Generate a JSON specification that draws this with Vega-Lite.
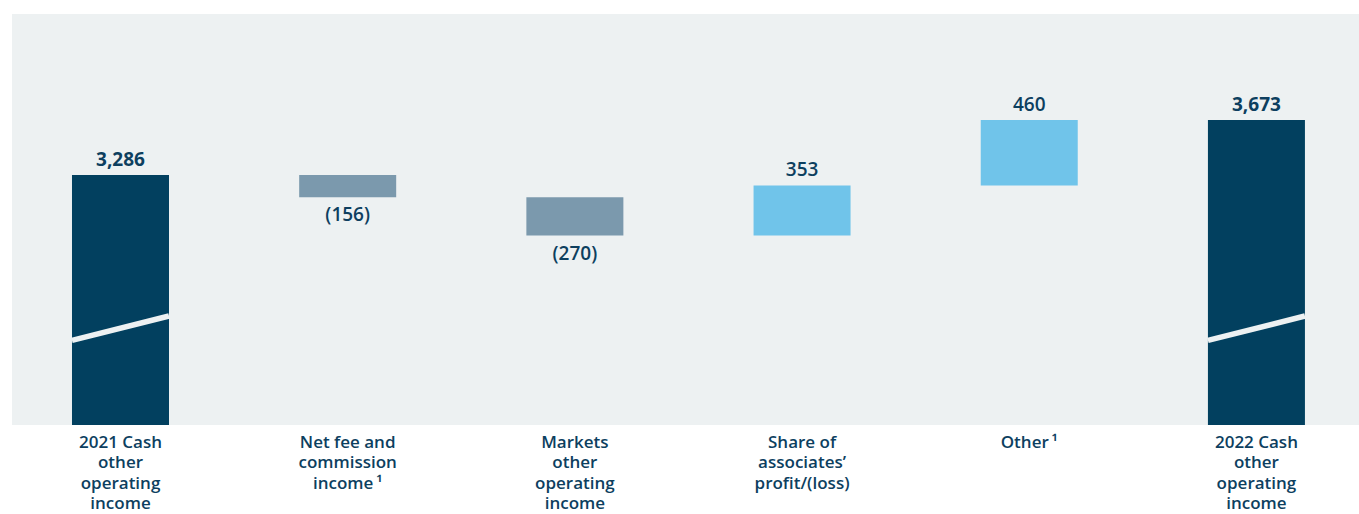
{
  "$schema": "https://vega.github.io/schema/vega-lite/v6.json",
  "autosize": {"type": "none"},
  "width": 1347,
  "height": 411,
  "padding": {"left": 12, "top": 14, "right": 0, "bottom": 89},
  "background": "#ffffff",
  "config": {
    "view": {"fill": "#edf1f2", "stroke": null},
    "font": "Open Sans"
  },
  "data": {
    "values": [
      {"category": "2021 Cash|other|operating|income", "type": "total", "start": 0, "end": 3286, "amount": 3286},
      {"category": "Net fee and|commission|income\u2009¹", "type": "decrease", "start": 3286, "end": 3130, "amount": -156},
      {"category": "Markets|other|operating|income", "type": "decrease", "start": 3130, "end": 2860, "amount": -270},
      {"category": "Share of|associates’|profit/(loss)", "type": "increase", "start": 2860, "end": 3213, "amount": 353},
      {"category": "Other\u2009¹", "type": "increase", "start": 3213, "end": 3673, "amount": 460},
      {"category": "2022 Cash|other|operating|income", "type": "total", "start": 0, "end": 3673, "amount": 3673}
    ]
  },
  "encoding": {
    "x": {
      "field": "category",
      "type": "nominal",
      "sort": null,
      "scale": {"paddingInner": 0.573, "paddingOuter": 0.251, "align": 0.526},
      "axis": {
        "title": null,
        "domain": false,
        "ticks": false,
        "labelAngle": 0,
        "labelExpr": "split(datum.label, '|')",
        "labelFont": "Open Sans",
        "labelFontSize": 17,
        "labelFontWeight": 600,
        "labelColor": "#0d3f5f",
        "labelLineHeight": 20.6,
        "labelBaseline": "top",
        "labelPadding": 9,
        "labelLimit": 300
      }
    }
  },
  "layer": [
    {
      "mark": {"type": "bar", "clip": true},
      "encoding": {
        "y": {"field": "start", "type": "quantitative", "scale": {"domain": [1527, 4419], "nice": false, "zero": false}, "axis": null},
        "y2": {"field": "end"},
        "color": {
          "field": "type",
          "type": "nominal",
          "scale": {"domain": ["total", "decrease", "increase"], "range": ["#02405f", "#7b99ad", "#70c4ea"]},
          "legend": null
        }
      }
    },
    {
      "transform": [{"filter": "datum.type === 'total'"}],
      "mark": {"type": "rule", "color": "#edf1f2", "strokeWidth": 5.5},
      "encoding": {
        "x": {"field": "category", "type": "nominal", "sort": null, "bandPosition": 0},
        "x2": {"field": "category", "bandPosition": 1},
        "y": {"datum": 2122, "type": "quantitative"},
        "y2": {"datum": 2294}
      }
    },
    {
      "transform": [{"filter": "datum.type === 'total'"}],
      "mark": {"type": "text", "baseline": "alphabetic", "dy": -9, "fontSize": 19, "fontWeight": 700, "color": "#0d3f5f"},
      "encoding": {
        "y": {"field": "end", "type": "quantitative"},
        "text": {"field": "amount", "type": "quantitative", "format": "(,"}
      }
    },
    {
      "transform": [{"filter": "datum.type === 'increase'"}],
      "mark": {"type": "text", "baseline": "alphabetic", "dy": -9, "fontSize": 19, "fontWeight": 600, "color": "#0d3f5f"},
      "encoding": {
        "y": {"field": "end", "type": "quantitative"},
        "text": {"field": "amount", "type": "quantitative", "format": "(,"}
      }
    },
    {
      "transform": [{"filter": "datum.type === 'decrease'"}],
      "mark": {"type": "text", "baseline": "alphabetic", "dy": 24, "fontSize": 19, "fontWeight": 600, "color": "#0d3f5f"},
      "encoding": {
        "y": {"field": "end", "type": "quantitative"},
        "text": {"field": "amount", "type": "quantitative", "format": "(,"}
      }
    }
  ]
}
